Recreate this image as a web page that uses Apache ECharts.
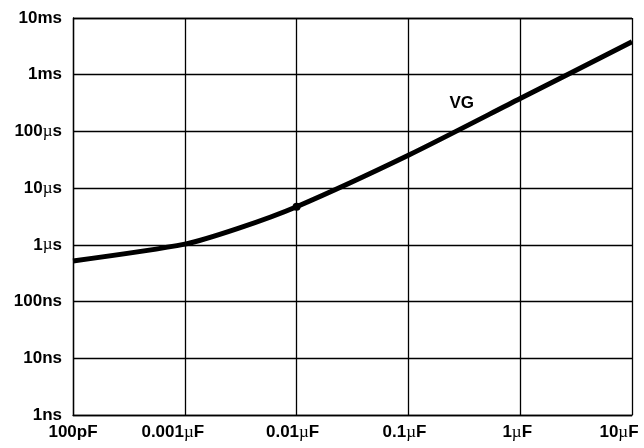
<!DOCTYPE html>
<html><head><meta charset="utf-8">
<script src="https://cdn.jsdelivr.net/npm/echarts@6/dist/echarts.min.js"></script>
<style>html,body{margin:0;padding:0;background:#fff}#c{width:644px;height:448px}</style>
</head><body><div id="c"></div>
<script>
// capacitance (F)
const capValues = [1e-10, 1e-9, 3e-9, 1e-8, 1e-7, 1e-6, 1e-5];
// time (s)
const timeValues = [5.2e-7, 1.03e-6, 1.95e-6, 4.7e-6, 3.8e-5, 3.8e-4, 3.8e-3];
const xTickLabels = [['100p','F'],['0.001','µF'],['0.01','µF'],['0.1','µF'],['1','µF'],['10','µF']];
const yTickLabels = [['1n','s'],['10n','s'],['100n','s'],['1','µs'],['10','µs'],['100','µs'],['1m','s'],['10m','s']];
const seriesName = 'VG';
const labelPos = [3e-7, 3.1e-4];

// trailing spacer widths (px) to nudge x labels like the original layout
const xLabelNudge = [0, 24, 8, 8, 6, 26];

function fmt(pair, pad){
  const a = pair[0], b = pair[1];
  let s;
  if (b.indexOf('µ') === 0) s = '{b|' + a + '}{u|µ}{b|' + b.slice(1) + '}';
  else s = '{b|' + a + b + '}';
  if (pad) s += '{p' + pad + '| }';
  return s;
}
const rich = {
  b: {fontFamily: 'Liberation Sans, Arial', fontWeight: 'bold', fontSize: 17, color: '#000'},
  u: {fontFamily: 'Liberation Serif, serif', fontWeight: 'normal', fontSize: 17, color: '#000'}
};
xLabelNudge.forEach(n => { if (n) rich['p' + n] = {width: n, fontSize: 1}; });

const chart = echarts.init(document.getElementById('c'), null, {renderer: 'canvas'});
const lineData = capValues.map((x, i) => {
  const d = {value: [x, timeValues[i]]};
  if (x === 1e-8) { d.symbol = 'circle'; d.symbolSize = 8; }
  return d;
});
chart.setOption({
  animation: false,
  backgroundColor: '#fff',
  grid: {left: 73, right: 12, top: 18, bottom: 33, show: false, containLabel: false, outerBoundsMode: 'none'},
  xAxis: {
    type: 'log', logBase: 10, min: 1e-10, max: 1e-5,
    axisLine: {show: true, lineStyle: {color: '#000', width: 1.3}},
    axisTick: {show: false},
    splitLine: {show: true, lineStyle: {color: '#000', width: 1.3}},
    minorTick: {show: false},
    axisLabel: {
      margin: 9,
      formatter: v => { const i = Math.round(Math.log10(v)) + 10; return fmt(xTickLabels[i], xLabelNudge[i]); },
      rich: rich
    }
  },
  yAxis: {
    type: 'log', logBase: 10, min: 1e-9, max: 1e-2,
    axisLine: {show: true, lineStyle: {color: '#000', width: 1.3}},
    axisTick: {show: false},
    splitLine: {show: true, lineStyle: {color: '#000', width: 1.3}},
    axisLabel: {
      margin: 11,
      formatter: v => fmt(yTickLabels[Math.round(Math.log10(v)) + 9], 0),
      rich: rich
    }
  },
  series: [{
    name: seriesName,
    type: 'line',
    data: lineData,
    symbol: 'none',
    showSymbol: true,
    smooth: 0.25,
    lineStyle: {color: '#000', width: 5},
    itemStyle: {color: '#000'},
    z: 5,
    markPoint: {
      symbol: 'circle', symbolSize: 0,
      data: [{coord: labelPos, value: seriesName}],
      label: {show: true, position: 'inside', formatter: seriesName,
        fontFamily: 'Liberation Sans, Arial', fontWeight: 'bold', fontSize: 17, color: '#000'}
    }
  }]
});
</script>
</body></html>
